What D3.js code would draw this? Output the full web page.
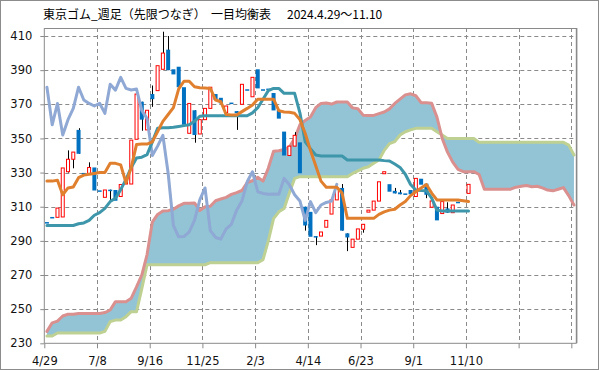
<!DOCTYPE html>
<html><head><meta charset="utf-8">
<script src="https://cdn.jsdelivr.net/npm/d3@7"></script>
<style>body{margin:0;background:#fff}svg{display:block}</style>
</head><body><svg id="c" width="599" height="370"></svg>
<script>
// ---------- data ----------
const titleMain = "東京ゴム_週足（先限つなぎ）";
const titleSub = "一目均衡表";
const titleRange = "2024.4.29～11.10";
const nCategories = 101; // weekly slots from 2024-04-29 (incl. 26-week lead of the cloud)
const tickIndex = [0, 10, 20, 30, 40, 50, 60, 70, 80, 90, 100];
const tickLabels = ["4/29", "7/8", "9/16", "11/25", "2/3", "4/14", "6/23", "9/1", "11/10", "", ""];
const yTicks = [230, 250, 270, 290, 310, 330, 350, 370, 390, 410];

const opens  = [301,304,303.8,304,330.5,337.8,355,329.8,329.5,333,319.6,315.5,320,319.8,316,323.3,323.3,349.5,371.5,355,376,378,390.5,402,390.5,392,380,353,366.5,352.6,361,367.6,376,373.8,365,371,366,370,378.8,374.4,390.5,378.8,379.2,376.6,366.6,354,340,345.5,347.7,310,307,292.8,292.8,298,305.7,314,321,294.4,286.2,291,296.8,307,308,313.3,329.5,323.2,319.3,318.4,317.8,319.8,316,326.4,323.5,309.7,310,306,309,306.5,312.9,313.7,317.8];
const highs  = [301,304,309.2,332.7,343,342,356,329.8,336,333,319.6,319.8,320,319.8,323,326,349,376,371.5,366.5,381,392.6,412.5,410,390.5,392,380,370.5,366.5,361,367.6,380,376,373.8,369,371,366,381.7,378.8,385.8,390.5,378.8,379.2,376.6,366.6,354,345.5,353.7,347.7,310,307,292.8,295.2,302,314,321,323.3,294.4,291,297,299.7,308,313.3,324.6,330.5,323.2,321,319.8,317.8,319.8,326.6,326.4,323.5,313.4,310,313,312.6,311,312.9,313.7,323.1];
const lows   = [300.6,303.6,303.8,304,330,332.5,341,329.3,329.5,319.5,319.2,315.5,314,313.5,316,323.3,323.3,349.5,354.5,355,368.5,378,390.5,390,387.5,380,358,353,347.5,352.6,361,367.6,372.5,370.5,365,370.6,355,370,378.3,374.4,379.3,378.4,378.9,366.4,361.6,340,340,345.5,329.6,296,292.4,287.5,292.8,298,305.7,314,296,284,286.2,291,294.8,307,308,313.3,329.5,318.8,317.8,317.3,317.4,317.3,316,322.9,315,309.7,302,306,306.5,306.5,312.5,313.3,317.8];
const closes = [300.6,303.6,309.2,332.7,337.8,342,341,329.3,333,319.5,319.2,319.8,319.6,313.5,323,326,349,376,361,366.5,373,392.6,400,390,387.5,380,358,370.5,352,361,367.6,380,372.5,370.5,369,370.6,364.7,381.7,378.3,385.8,379.3,378.4,378.9,366.4,361.6,340,345.5,351.8,329.6,299,292.4,292.5,295.2,302,314,321,296,292,291,297,299.7,308,313.3,324.6,330.5,318.8,317.8,317.3,317.4,317.3,326.6,322.9,317,313.4,302,313,306.5,311,312.5,313.3,323.1];

const tenkan = [325,325,325.5,317,321,321.5,327,328.5,329,329.5,330,330,335.4,335.4,334.5,324,333,346.5,346.7,346.7,348,354,360,364,368,379,383.5,383.5,380.3,379.7,379.5,379.3,372.5,371.5,364,363.7,363.7,365.7,367.6,369.6,373,373,373,373,366.3,365.5,365.3,364.7,361,353,343,334,325,321.4,321.4,321.4,318,303.2,303.2,303.2,303.2,303.2,303.2,305.5,307,308,308.5,311,313,316.5,318.8,321,323,318,314,313.9,313.9,313.9,313.9,313.5,313];
const kijun  = [299,299,299,299,299,299,300,300.5,302,305,306.5,309,313,315,320,326,333,338.5,339,340.5,348,356,356.3,356.3,356.5,357,357.5,358,360,363,363.3,363.3,363.3,363.3,363.3,363.3,363.3,363.3,363.3,365,368,373,378,379.3,379.3,376.4,376.4,376.4,365,348,344,340.3,339.7,339.7,339.7,339.7,339.7,337.4,337.4,337.4,337.4,337.4,337.4,337.4,337,336.8,335,333,329,323,319.8,319.5,319.4,315,308,307.5,307.5,307.5,307.5,307.5,307.5];
const chikou = [380,358,370.5,352,361,367.6,380,372.5,370.5,369,370.6,364.7,381.7,378.3,385.8,379.3,378.4,378.9,366.4,361.6,340,345.5,351.8,329.6,299,292.4,292.5,295.2,302,314,321,296,292,291,297,299.7,308,313.3,324.6,330.5,318.8,317.8,317.3,317.4,317.3,326.6,322.9,317,313.4,302,313,306.5,311,312.5,313.3,323.1];
const senkouA = [237,242,243,246,247,247,247.5,247.5,247.5,247.5,247.5,248,249.5,254.4,254.4,254.4,256.4,263,270,282,301,305.5,307.5,307.7,308.5,310.5,312,312,312.25,307.75,310,310.25,313.5,314.5,315.5,317.25,318.25,319.5,324.2,325.2,327.25,325,332.5,342.5,342.75,343.5,345,350,358,360.5,362.5,368,370.5,370.75,370.15,371.35,371.4,371.3,367.9,367.4,363.65,363.5,363.5,364.5,365.45,367.3,370.5,373,375.5,376.15,375,370.95,370.85,370.55,362.5,350,342,336.15,331.85,330.55,330.55,330.55,328.85,320.3,320.3,320.3,320.3,320.3,320.3,321.45,322,322.4,321.75,322,321,319.75,319.3,320.25,321.2,316.5,311];
const senkouB = [234.3,234.3,236,236,236,236,236,236,236,236,236,237,242.7,243.6,243.6,245.6,248.5,248.5,262,276,276,276,276,276,276,276,276,276,276,276,276,277.2,277.2,277.2,277.2,277.2,277.2,277.2,277.2,277.2,277.2,279,290,303,307,309,318,326.6,327.6,327.6,327.6,327.6,327.6,327.6,327.6,327.6,327.6,327.6,329.5,331,332.5,333.4,335.5,337.4,343,347,348.1,352,353.9,355,355.9,355.9,355.9,355.9,353.9,352,350,350,350,350,350,350,347.7,347.7,347.7,347.7,347.7,347.7,347.7,347.7,347.7,347.7,347.7,347.7,347.7,347.7,347.7,347.7,347.7,346.1,340.3];

// ---------- drawing ----------
const svg = d3.select("#c");
const W = 599, H = 370;
const P = {left: 44.3, right: 576.6, top: 28, bottom: 343.3};
const x = d3.scaleBand().domain(d3.range(nCategories)).range([P.left, P.right]).padding(0);
const xb = d3.scaleLinear().domain([0, nCategories]).range([P.left, P.right]); // category boundaries
const y = d3.scaleLinear().domain([230, 410]).range([343.3, 36]);
const cx = i => x(i) + x.bandwidth() / 2;
const gridCol = "#8a8a8a";
const numFont = "'DejaVu Sans', Verdana, sans-serif";
const jpFont = "'Noto Sans CJK JP', 'Noto Sans', sans-serif";

svg.append("rect").attr("width", W).attr("height", H).attr("fill", "#fff");
svg.append("rect").attr("x", 0.5).attr("y", 0.5).attr("width", W - 1).attr("height", H - 1)
  .attr("fill", "none").attr("stroke", "#8c8c8c");

// title
svg.append("text").attr("x", 43).attr("y", 18.5).attr("font-family", jpFont).attr("font-size", 12).attr("fill", "#000").text(titleMain);
svg.append("text").attr("x", 211).attr("y", 18.5).attr("font-family", jpFont).attr("font-size", 12).attr("fill", "#000").text(titleSub);
svg.append("text").attr("x", 287).attr("y", 18.5).attr("font-family", jpFont).attr("font-size", 12).attr("fill", "#000").text(titleRange);

// grid
const grid = svg.append("g").attr("stroke", gridCol).attr("stroke-dasharray", "4,3").attr("stroke-width", 1);
grid.selectAll(".h").data(yTicks.filter(v => v > 230)).join("line")
  .attr("x1", P.left).attr("x2", P.right).attr("y1", d => Math.round(y(d)) + 0.5).attr("y2", d => Math.round(y(d)) + 0.5);
grid.selectAll(".v").data(tickIndex.filter(i => i > 0)).join("line")
  .attr("x1", d => Math.round(xb(d)) + 0.5).attr("x2", d => Math.round(xb(d)) + 0.5).attr("y1", P.top).attr("y2", P.bottom);

// cloud
const idx = d3.range(nCategories);
svg.append("path").datum(idx)
  .attr("d", d3.area().x(i => cx(i)).y0(i => y(senkouB[i])).y1(i => y(senkouA[i])))
  .attr("fill", "#92c4d6").attr("stroke", "none");

const line = d3.line().x((d, i) => cx(i)).y(d => y(d));
function drawLine(arr, col, w) {
  svg.append("path").datum(arr).attr("d", line).attr("fill", "none").attr("stroke", col)
    .attr("stroke-width", w).attr("stroke-linejoin", "round").attr("stroke-linecap", "round");
}
drawLine(senkouB, "#bfd192", 3);
drawLine(senkouA, "#d9908f", 3);

// candles
const cg = svg.append("g");
const bw = 4;
opens.forEach((o, i) => {
  const c = closes[i], up = c > o;
  const xc = cx(i);
  if (highs[i] > Math.max(o, c) + 0.3 || lows[i] < Math.min(o, c) - 0.3) {
    cg.append("line").attr("x1", Math.round(xc) + 0.5).attr("x2", Math.round(xc) + 0.5)
      .attr("y1", y(highs[i])).attr("y2", y(lows[i])).attr("stroke", "#000").attr("stroke-width", 1);
  }
  const top = y(Math.max(o, c)), bot = y(Math.min(o, c));
  const h = Math.max(bot - top, 1.5);
  if (up) {
    cg.append("rect").attr("x", xc - bw / 2 + 0.5).attr("y", top).attr("width", bw - 1).attr("height", Math.max(h, 2))
      .attr("fill", "#fff").attr("stroke", "#ff0000").attr("stroke-width", 1);
  } else {
    cg.append("rect").attr("x", xc - bw / 2).attr("y", top).attr("width", bw).attr("height", h)
      .attr("fill", "#0070c0");
  }
});

drawLine(chikou, "#8fa8d4", 3);
drawLine(kijun, "#3d96a9", 3);
drawLine(tenkan, "#e0802e", 3);

// plot frame
svg.append("line").attr("x1", P.left).attr("x2", P.right).attr("y1", P.top + 0.5).attr("y2", P.top + 0.5).attr("stroke", gridCol).attr("stroke-width", 1.2);
svg.append("line").attr("x1", P.right).attr("x2", P.right).attr("y1", P.top).attr("y2", P.bottom).attr("stroke", gridCol).attr("stroke-width", 1.6);

// axes
const ya = svg.append("g").attr("transform", `translate(${P.left},0)`)
  .call(d3.axisLeft(y).tickValues(yTicks).tickSize(4).tickPadding(8).tickFormat(d3.format("d")));
ya.select(".domain").attr("d", `M0,${P.bottom}V${P.top}`).attr("stroke", gridCol);
ya.selectAll(".tick line").attr("stroke", gridCol);
ya.selectAll("text").attr("font-family", numFont).attr("font-size", 11.5).attr("fill", "#111");

const xa = svg.append("g").attr("transform", `translate(0,${P.bottom})`)
  .call(d3.axisBottom(xb).tickValues(tickIndex).tickSize(5).tickPadding(9).tickFormat((d, i) => tickLabels[i]));
xa.select(".domain").attr("d", `M${P.left},0H${P.right}`).attr("stroke", gridCol);
xa.selectAll(".tick line").attr("stroke", gridCol);
xa.selectAll("text").attr("font-family", numFont).attr("font-size", 11.5).attr("fill", "#111");
</script></body></html>
